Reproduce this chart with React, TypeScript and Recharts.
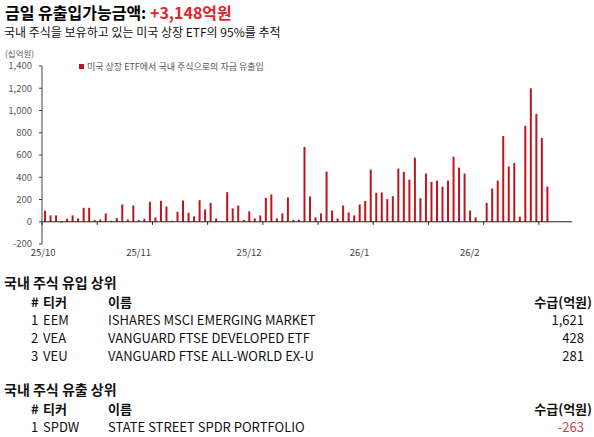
import { BarChart, Bar, XAxis, YAxis, ReferenceLine, Legend } from 'recharts';

// daily flow, 십억원 (one bar per trading day)
const flows = [
  100, 57, 57, -8, 27, 57, 30, 125, 125, 15,
  20, 75, 9, 33, 155, 20, 146, 15, 27, 180,
  39, 188, 137, 9, 90, 191, 81, 48, 194, 110,
  170, 30, 6, 266, 120, 146, 18, 93, 30, 57,
  215, 245, 30, 75, 218, 18, 18, 672, 227, 39,
  75, 451, 101, 30, 146, 84, 57, 155, 188, 469,
  260, 263, 203, 230, 478, 448, 379, 576, 212, 433,
  358, 370, 316, 370, 585, 487, 433, 101, 39, 0,
  170, 299, 370, 770, 496, 528, 45, 863, 1200, 970,
  752, 316,
];
const emptyDays = 4;

const yTicks = [-200, 0, 200, 400, 600, 800, 1000, 1200, 1400];
const xLabels = ['25/10', '25/11', '25/12', '26/1', '26/2'];
const xLabelAt = [0.2, 17.5, 37.5, 57.5, 77.5];
const tickMarkAt = [0, 10, 20, 30, 40, 50, 60, 70, 80, 90];

const seriesName = '미국 상장 ETF에서 국내 주식으로의 자금 유출입';

const inflowTickers = ['EEM', 'VEA', 'VEU'];
const inflowNames = ['ISHARES MSCI EMERGING MARKET', 'VANGUARD FTSE DEVELOPED ETF', 'VANGUARD FTSE ALL-WORLD EX-U'];
const inflowAmounts = [1621, 428, 281];

const outflowTickers = ['SPDW'];
const outflowNames = ['STATE STREET SPDR PORTFOLIO'];
const outflowAmounts = [-263];

const FONT = '"Noto Sans CJK KR", "Noto Sans", sans-serif';
const RED = '#e5232b';
const BAR = '#c0141c';

const chartData = flows.map((v, i) => ({ day: i + 0.5, flow: v }));

function Text({ top, left, right, size, bold, color, children }: any) {
  return (
    <div
      style={{
        position: 'absolute',
        top: top - 8,
        left,
        right,
        height: 16,
        lineHeight: '16px',
        fontSize: size,
        fontWeight: bold ? 700 : 400,
        color: color || '#111',
        whiteSpace: 'nowrap',
      }}
    >
      {children}
    </div>
  );
}

function FlowTable({ top, heading, tickers, names, amounts }: any) {
  return (
    <>
      <Text top={top - 1.5} left={4} size={14} bold>{heading}</Text>
      <Text top={top + 19} left={31} size={13} bold>#</Text>
      <Text top={top + 19} left={43} size={13} bold>티커</Text>
      <Text top={top + 19} left={108} size={13} bold>이름</Text>
      <Text top={top + 19} right={2} size={13} bold>수급(억원)</Text>
      {tickers.map((t: string, i: number) => (
        <div key={t}>
          <Text top={top + 37 + i * 18} left={31} size={13}>{i + 1}</Text>
          <Text top={top + 37 + i * 18} left={43} size={13}>{t}</Text>
          <Text top={top + 37 + i * 18} left={108} size={13}>{names[i]}</Text>
          <Text top={top + 37 + i * 18} right={10} size={13} color={amounts[i] < 0 ? '#c8474f' : '#111'}>
            {amounts[i].toLocaleString('en-US')}
          </Text>
        </div>
      ))}
    </>
  );
}

const legendContent = (props: any) => {
  const item = props.payload && props.payload[0];
  return (
    <div style={{ display: 'flex', alignItems: 'center', fontSize: 9, color: '#555', whiteSpace: 'nowrap' }}>
      <span style={{ width: 5, height: 5, background: item ? item.color : BAR, marginRight: 3 }} />
      {item ? item.value : seriesName}
    </div>
  );
};

export default function App() {
  return (
    <div style={{ position: 'absolute', left: 0, top: 0, width: 594, height: 437, background: '#fff', fontFamily: FONT }}>
      <div style={{ position: 'absolute', top: 2, left: 5, fontSize: 16, fontWeight: 700, lineHeight: '20px', whiteSpace: 'nowrap' }}>
        금일 유출입가능금액: <span style={{ color: RED }}>+3,148억원</span>
      </div>
      <Text top={32} left={4} size={12}>국내 주식을 보유하고 있는 미국 상장 ETF의 95%를 추적</Text>
      <Text top={53} left={5} size={8.5} color="#555">(십억원)</Text>

      <div style={{ position: 'absolute', left: 0, top: 0 }}>
        <BarChart
          width={594}
          height={262}
          data={chartData}
          margin={{ top: 66, right: 22, left: 5, bottom: 4 }}
          style={{ fontFamily: FONT }}
        >
          <XAxis
            type="number"
            dataKey="day"
            domain={[0, flows.length + emptyDays]}
            ticks={xLabelAt}
            interval={0}
            tickFormatter={(v: number) => xLabels[xLabelAt.indexOf(v)]}
            axisLine={false}
            tickLine={false}
            tickSize={0}
            tickMargin={5}
            height={14}
            tick={{ fontSize: 9.5, fill: '#404040' }}
          />
          <YAxis
            domain={[-200, 1400]}
            ticks={yTicks}
            interval={0}
            width={37}
            tickSize={3}
            tickMargin={7}
            tickFormatter={(v: number) => v.toLocaleString('en-US')}
            axisLine={{ stroke: '#404040' }}
            tickLine={{ stroke: '#404040' }}
            tick={{ fontSize: 9.5, fill: '#595959' }}
          />
          <ReferenceLine y={0} stroke="#222" strokeWidth={1} />
          {tickMarkAt.map((d) => (
            <ReferenceLine
              key={d}
              segment={[{ x: d, y: 0 }, { x: d, y: -28 }]}
              stroke="#222"
              strokeWidth={1}
            />
          ))}
          <Legend
            layout="horizontal"
            verticalAlign="middle"
            align="center"
            content={legendContent}
            wrapperStyle={{ top: 60, left: 79, width: 'auto', height: 12 }}
          />
          <Bar dataKey="flow" name={seriesName} fill={BAR} barSize={2} isAnimationActive={false} />
        </BarChart>
      </div>

      <FlowTable top={283} heading="국내 주식 유입 상위" tickers={inflowTickers} names={inflowNames} amounts={inflowAmounts} />
      <FlowTable top={390} heading="국내 주식 유출 상위" tickers={outflowTickers} names={outflowNames} amounts={outflowAmounts} />
    </div>
  );
}
